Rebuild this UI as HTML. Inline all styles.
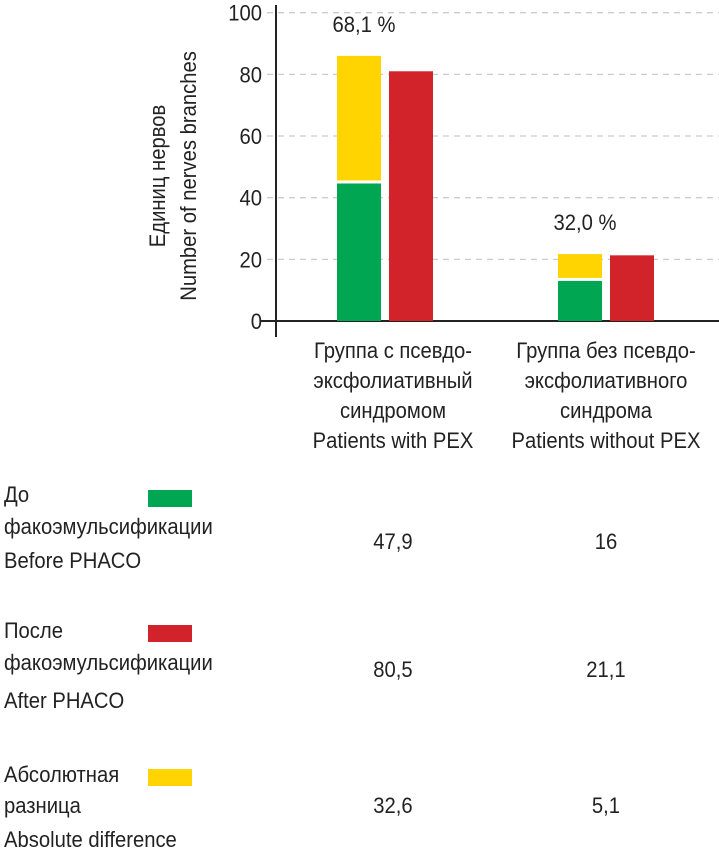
<!DOCTYPE html>
<html><head><meta charset="utf-8"><style>
body{margin:0;background:#fff}
svg{display:block}
text{font-family:"Liberation Sans","DejaVu Sans",sans-serif;fill:#222;font-size:22px}
</style></head><body>
<svg id="c" width="719" height="849" viewBox="0 0 719 849"></svg>
<script>
const categories=["Patients with PEX","Patients without PEX"];
const greenVals=[44.6,13];
const yellowTops=[86,21.7];
const redVals=[81,21.3];
const pctLabels=["68,1 %","32,0 %"];
const yTicks=[0,20,40,60,80,100];
const beforeVals=["47,9","16"];
const afterVals=["80,5","21,1"];
const diffVals=["32,6","5,1"];
const NS="http://www.w3.org/2000/svg";
const svg=document.getElementById('c');
const y0=321,y1=12.7;
const SX=0.92;
function yS(v){return y0-(y0-y1)*v/100;}
const groupX=[337,558];
function el(tag,attrs,parent){const e=document.createElementNS(NS,tag);for(const k in attrs)e.setAttribute(k,attrs[k]);(parent||svg).appendChild(e);return e;}
function txt(s,x,y,anchor,name){const t=el('text',{transform:`translate(${x},${y}) scale(${SX},1)`,'text-anchor':anchor||'middle'});t.textContent=s;


return t;}
yTicks.forEach(v=>{
  if(v>0){const g=el('line',{x1:267,x2:719,y1:yS(v),y2:yS(v),stroke:'#ccc','stroke-width':1.3,'stroke-dasharray':'6,5'});
  
  }
  txt(String(v),262,yS(v)+8,'end','y-tick-label');
});
const ax=el('line',{x1:276,x2:276,y1:5,y2:337,stroke:'#222','stroke-width':2});


const xx=el('line',{x1:260,x2:719,y1:y0,y2:y0,stroke:'#222','stroke-width':2});


const yt1=el('text',{transform:`translate(165,176) rotate(-90) scale(${SX},1)`,'text-anchor':'middle'});yt1.textContent='Единиц нервов';


const yt2=el('text',{transform:`translate(196,176) rotate(-90) scale(${SX},1)`,'text-anchor':'middle'});yt2.textContent='Number of nerves branches';


categories.forEach((c,i)=>{
  const x=groupX[i];
  const g=el('rect',{x:x,y:yS(greenVals[i]),width:44,height:y0-yS(greenVals[i]),fill:'#00a651'});
  
  
  const yb=yS(greenVals[i])-3;
  const yy=el('rect',{x:x,y:yS(yellowTops[i]),width:44,height:yb-yS(yellowTops[i]),fill:'#ffd400'});
  
  
  const r=el('rect',{x:x+52,y:yS(redVals[i]),width:44,height:y0-yS(redVals[i]),fill:'#d2232a'});
  
  
  txt(pctLabels[i],x+27,yS(yellowTops[i])-24,'middle','percent-label');
});
const lab=[["Группа с псевдо-","эксфолиативный","синдромом","Patients with PEX"],["Группа без псевдо-","эксфолиативного","синдрома","Patients without PEX"]];
const cx=[393,606];
lab.forEach((ls,i)=>ls.forEach((s,j)=>txt(s,cx[i],358+j*30,'middle','category-label')));
const rows=[{l:["До","факоэмульсификации","Before PHACO"],ly:[502,534,568],c:'#00a651',sy:490,v:beforeVals,vy:549,n:'before'},
{l:["После","факоэмульсификации","After PHACO"],ly:[638,670,708],c:'#d2232a',sy:625,v:afterVals,vy:677,n:'after'},
{l:["Абсолютная","разница","Absolute difference"],ly:[782,813,847],c:'#ffd400',sy:769,v:diffVals,vy:813,n:'difference'}];
rows.forEach(r=>{
  r.l.forEach((s,j)=>txt(s,4,r.ly[j],'start','legend-label-'+r.n));
  const sw=el('rect',{x:148,y:r.sy,width:44,height:17,fill:r.c});
  
  
  r.v.forEach((v,i)=>txt(v,cx[i],r.vy,'middle','table-value-'+r.n));
});
</script>
</body></html>
